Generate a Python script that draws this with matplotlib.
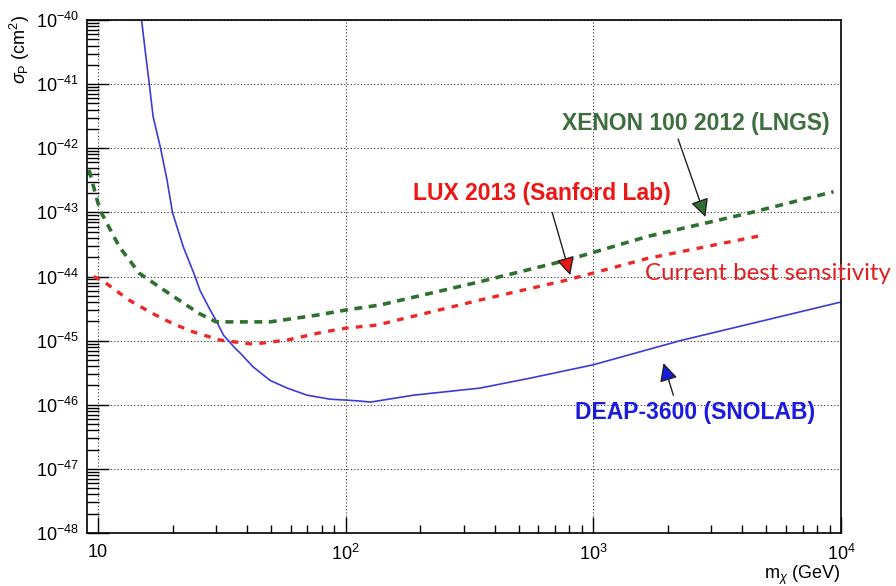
import numpy as np
import matplotlib
matplotlib.use("Agg")
import matplotlib.pyplot as plt
from matplotlib.ticker import LogLocator, NullFormatter

plt.rcParams['font.family'] = ['Liberation Sans', 'DejaVu Sans']
plt.rcParams['mathtext.fontset'] = 'custom'
plt.rcParams['mathtext.rm'] = 'Liberation Sans'
plt.rcParams['mathtext.it'] = 'Liberation Sans:italic'

# DEAP-3600 projected sensitivity (GeV, cm^2)
deap_m = [15.0, 15.5, 16.1, 16.7, 17.9, 19.0, 20.0, 22.1, 24.7, 25.8, 27.9, 30.2, 32.1, 35.8,
          37.5, 42.3, 49.5, 58.0, 69.9, 86.6, 101, 115, 126, 188, 349, 556, 1000, 2245, 10000]
deap_s = [1e-40, 3.4e-41, 1.03e-41, 3.1e-42, 9.95e-43, 3.2e-43, 9.9e-44, 2.9e-44, 9.9e-45,
          6.1e-45, 3.4e-45, 1.96e-45, 1.22e-45, 7.6e-46, 6.4e-46, 3.9e-46, 2.4e-46, 1.82e-46,
          1.41e-46, 1.22e-46, 1.18e-46, 1.14e-46, 1.1e-46, 1.41e-46, 1.82e-46, 2.6e-46, 4.2e-46,
          1e-45, 4e-45]

# XENON100 2012 limit
xenon_m = [9.2, 10, 10.3, 12.2, 14.7, 19.4, 25.6, 30, 49.5, 76.7, 100, 138, 349, 783, 1650, 4180, 9330]
xenon_s = [4.6e-43, 1.4e-43, 1.0e-43, 2.9e-44, 1.12e-44, 5.4e-45, 2.65e-45, 1.96e-45, 1.96e-45,
           2.5e-45, 3e-45, 3.6e-45, 8.3e-45, 1.8e-44, 4.2e-44, 9.6e-44, 2.1e-43]

# LUX 2013 limit
lux_m = [9.6, 10, 10.8, 13.4, 16.6, 20, 24.2, 31.1, 42.3, 58, 81.1, 101, 134, 349, 783, 1650, 4875]
lux_s = [1.0e-44, 9.3e-45, 7.8e-45, 4.25e-45, 2.65e-45, 1.85e-45, 1.37e-45, 1.02e-45, 8.8e-46,
         1.02e-45, 1.36e-45, 1.57e-45, 1.75e-45, 4.3e-45, 8.8e-45, 1.91e-44, 4.43e-44]

fig = plt.figure(figsize=(8.96, 5.86), dpi=100)
ax = fig.add_axes([87/896, 1 - 533/586, 754/896, 513/586])

ax.plot(deap_m, deap_s, color='#3b3bdc', lw=1.2)
ax.plot(xenon_m, xenon_s, color='#2f6f2f', lw=2.6, ls=(0, (2.2, 1.8)))
ax.plot(lux_m, lux_s, color='#f02525', lw=2.4, ls=(0, (2.0, 2.2)))

ax.set_xscale('log')
ax.set_yscale('log')

ax.xaxis.set_minor_locator(LogLocator(base=10, subs=np.arange(2, 10), numticks=10))
ax.yaxis.set_minor_locator(LogLocator(base=10, subs=np.arange(2, 10), numticks=20))
ax.xaxis.set_minor_formatter(NullFormatter())
ax.yaxis.set_minor_formatter(NullFormatter())
ax.set_xticks([10, 100, 1000, 10000])
ax.set_xticklabels(['10', r'$10^{2}$', r'$10^{3}$', r'$10^{4}$'])
yexp = list(range(-48, -39))
ax.set_yticks([10.0 ** e for e in yexp])
ax.set_yticklabels([r'$10^{%d}$' % e for e in yexp])
ax.set_xlim(9.03, 1e4)
ax.set_ylim(1e-48, 1e-40)

ax.tick_params(axis='x', which='major', direction='in', length=11.5, width=1, labelsize=13, pad=8, top=False)
ax.tick_params(axis='x', which='minor', direction='in', length=6, width=1, top=False)
ax.tick_params(axis='y', which='major', direction='in', length=16, width=1, labelsize=13, pad=6, right=False)
ax.tick_params(axis='y', which='minor', direction='in', length=8.5, width=1, right=False)
ax.grid(True, which='major', color='#333333', lw=0.8, ls=(0, (1, 2)))
for s in ax.spines.values():
    s.set_linewidth(1.2)

# labels and pointer arrows: (text, text pos, arrow tail, arrow tip, colours)
arr = dict(arrowstyle='-|>,head_length=1.1,head_width=0.55', ec='#222222', lw=1.0,
           shrinkA=0, shrinkB=0)
labels = [
    ('XENON 100 2012 (LNGS)', (2600, 2.47e-42), (2200, 1.39e-42), (2835, 8.45e-44), '#3d6e3d', '#2f6f2f'),
    ('LUX 2013 (Sanford Lab)', (617, 2.0e-43), (682, 1.0e-43), (807, 1.05e-44), '#ee1515', '#ee1515'),
    ('DEAP-3600 (SNOLAB)', (2580, 7.7e-47), (2104, 1.41e-46), (1920, 4.47e-46), '#1a1ae0', '#1a1ae0'),
]
for txt, tpos, tail, tip, tc, hc in labels:
    ax.text(tpos[0], tpos[1], txt, ha='center', va='center', fontsize=16.5,
            fontweight='bold', color=tc)
    ax.annotate('', xy=tip, xytext=tail, arrowprops=dict(arr, fc=hc))

ax.text(1622, 1.13e-44, 'Current best sensitivity', ha='left', va='center',
        fontsize=17.3, color='#e02020', family=['Lato', 'DejaVu Sans'], clip_on=False)

fig.text(20/896, 1 - 15/586, r'$\sigma_{\mathrm{P}}$ (cm$^{2}$)', rotation=90, ha='center', va='top', fontsize=13)
fig.text(840/896, 1 - 575/586, r'm$_{\chi}$ (GeV)', ha='right', va='center', fontsize=13)

fig.savefig('out.png', dpi=100)
